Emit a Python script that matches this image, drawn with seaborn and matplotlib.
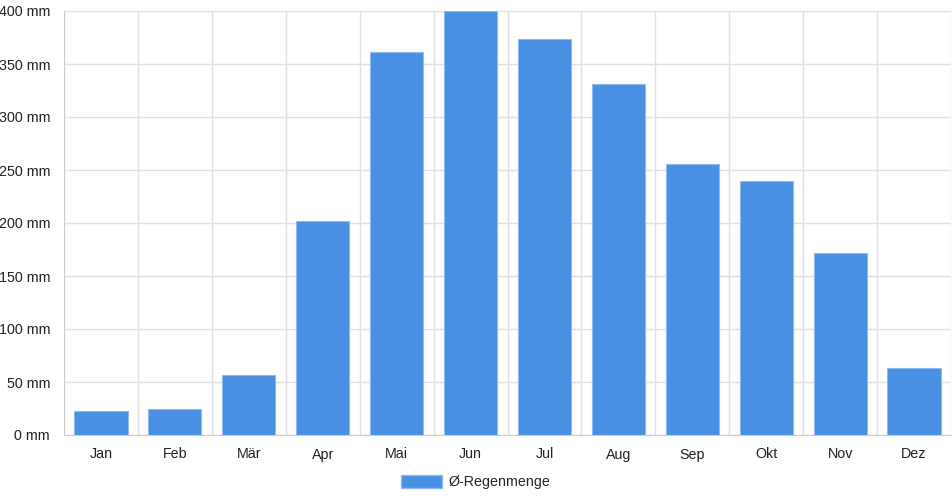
import matplotlib
matplotlib.use("Agg")
import matplotlib.pyplot as plt
import pandas as pd
import seaborn as sns

# Daten
monate = ['Jan', 'Feb', 'Mär', 'Apr', 'Mai', 'Jun', 'Jul', 'Aug', 'Sep', 'Okt', 'Nov', 'Dez']
regen = [23, 25, 57, 202, 361, 400, 374, 331, 256, 240, 172, 63]
serie = 'Ø-Regenmenge'

df = pd.DataFrame({'Monat': monate, 'Regen': regen, 'Serie': serie})

sns.set_style('white')
plt.rcParams['font.family'] = ['Liberation Sans', 'DejaVu Sans']

fig = plt.figure(figsize=(9.52, 5.0), dpi=100)
ax = fig.add_axes([0.0672, 0.13, 0.9318, 0.848])

sns.barplot(data=df, x='Monat', y='Regen', hue='Serie', palette=['#4a90e2'],
            saturation=1, width=0.72, edgecolor='#8fbaf0', linewidth=0.8,
            ax=ax, legend=False)

ax.set_ylim(0, 400)
ax.set_xlim(-0.5, len(monate) - 0.5)
ax.set_yticks(range(0, 401, 50))
ax.set_yticklabels([f'{v} mm' for v in range(0, 401, 50)])
ax.set_xticks(range(len(monate)))
ax.set_xticklabels(monate)
ax.set_xticks([i - 0.5 for i in range(len(monate) + 1)], minor=True)

ax.grid(False)
ax.yaxis.grid(True, color='#e0e0e0', linewidth=1)
ax.xaxis.grid(True, which='minor', color='#e0e0e0', linewidth=1)
ax.set_axisbelow(True)
ax.tick_params(axis='x', which='major', length=0, pad=9, labelsize=10.3, colors='#222222')
ax.tick_params(axis='x', which='minor', length=7, color='#e0e0e0')
ax.tick_params(axis='y', length=7, labelsize=10.3, pad=3, colors='#222222')
ax.tick_params(axis='y', color='#e0e0e0')
for s in ['top', 'right']:
    ax.spines[s].set_visible(False)
ax.spines['left'].set_color('#cccccc')
ax.spines['bottom'].set_color('#cccccc')
ax.set_xlabel('')
ax.set_ylabel('')

handle = plt.Rectangle((0, 0), 1, 1, facecolor='#4a90e2', edgecolor='#8fbaf0')
fig.legend([handle], [serie], loc='center', bbox_to_anchor=(0.5, 0.036),
           frameon=False, handlelength=2.8, handleheight=1.1, handletextpad=0.5,
           fontsize=10.3)

fig.savefig('out.png', dpi=100)
